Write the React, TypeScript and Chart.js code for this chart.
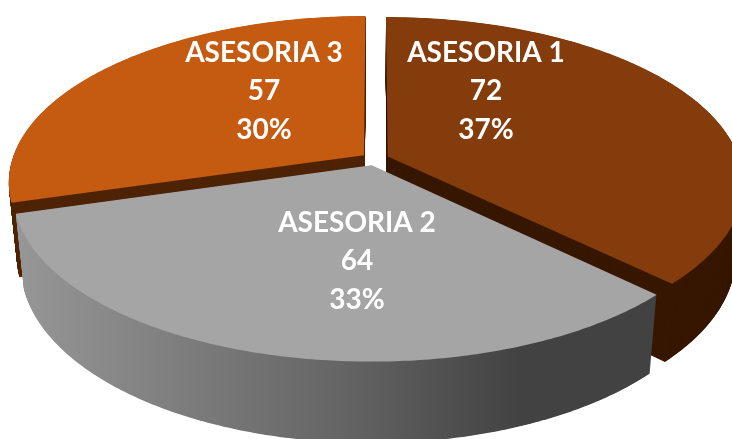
import React, { useEffect, useRef } from "react";
import { Chart, registerables } from "chart.js";

Chart.register(...registerables);

const categories = ["ASESORIA 1", "ASESORIA 2", "ASESORIA 3"];
const values = [72, 64, 57];
const topColors = ["#843c0c", "#a5a5a5", "#c55a11"];
const wallColors = ["#381802", "", "#4f2406"];

// Horizontal shading of the grey slice's wall: [x on the page, colour]
const greyWallStops: [number, string][] = [
  [20, "#969696"],
  [340, "#656565"],
  [520, "#424242"],
  [660, "#424242"],
];

// Depth-sorted drawing order of the slices (back to front)
const drawOrder = [2, 0, 1];

// Centre of each slice's label block
const labelCentres = [
  { x: 486, y: 91 },
  { x: 357, y: 261 },
  { x: 264, y: 91 },
];
const LABEL_LINE = 38.5;
const LABEL_FONT = "bold 28px Lato, 'Open Sans', sans-serif";

// Perspective camera that projects the flat pie to the page
const CX = 375;
const CY = 159;
const F = 351.6;
const G = 162.6;
const K = 0.1606;
const DEPTH_H = 74;
const DEPTH_M = 0.0217;
const WALL_STEPS = 160;

function project(X: number, Y: number, t: number) {
  const w = 1 - K * Y + DEPTH_M * t;
  return { x: CX + (F * X) / w, y: CY + (G * Y + DEPTH_H * t) / w };
}

function traceSlice(ctx: CanvasRenderingContext2D, arc: any, t: number) {
  const r = arc.outerRadius;
  const mid = (arc.startAngle + arc.endAngle) / 2;
  const e = (arc.options.offset || 0) / r;
  const ox = e * Math.cos(mid);
  const oy = e * Math.sin(mid);
  ctx.beginPath();
  const apex = project(ox, oy, t);
  ctx.moveTo(apex.x, apex.y);
  const n = 180;
  for (let i = 0; i <= n; i++) {
    const a = arc.startAngle + ((arc.endAngle - arc.startAngle) * i) / n;
    const p = project(ox + Math.cos(a), oy + Math.sin(a), t);
    ctx.lineTo(p.x, p.y);
  }
  ctx.closePath();
}

const pie3d = {
  id: "pie3d",
  beforeDatasetsDraw(chart: any) {
    const ctx: CanvasRenderingContext2D = chart.ctx;
    const arcs = chart.getDatasetMeta(0).data;
    ctx.save();
    for (const i of drawOrder) {
      const arc = arcs[i];
      let wall: string | CanvasGradient = wallColors[i];
      if (!wall) {
        const first = greyWallStops[0][0];
        const last = greyWallStops[greyWallStops.length - 1][0];
        const g = ctx.createLinearGradient(first, 0, last, 0);
        greyWallStops.forEach(([x, c]) => g.addColorStop((x - first) / (last - first), c));
        wall = g;
      }
      ctx.fillStyle = wall;
      for (let s = WALL_STEPS; s > 0; s--) {
        traceSlice(ctx, arc, s / WALL_STEPS);
        ctx.fill();
      }
      ctx.fillStyle = topColors[i];
      traceSlice(ctx, arc, 0);
      ctx.fill();
    }
    ctx.restore();
    return false;
  },
  afterDraw(chart: any) {
    const ctx: CanvasRenderingContext2D = chart.ctx;
    const total = values.reduce((a, b) => a + b, 0);
    ctx.save();
    ctx.fillStyle = "#ffffff";
    ctx.font = LABEL_FONT;
    ctx.textAlign = "center";
    ctx.textBaseline = "middle";
    categories.forEach((name, i) => {
      const c = labelCentres[i];
      ctx.fillText(name, c.x, c.y - LABEL_LINE);
      ctx.fillText(String(values[i]), c.x, c.y);
      ctx.fillText(`${Math.round((values[i] / total) * 100)}%`, c.x, c.y + LABEL_LINE);
    });
    ctx.restore();
  },
};

export default function App() {
  const ref = useRef<HTMLCanvasElement>(null);
  useEffect(() => {
    const chart = new Chart(ref.current!, {
      type: "pie",
      data: {
        labels: categories,
        datasets: [
          {
            data: values,
            backgroundColor: topColors,
            borderWidth: 0,
            offset: 8.5,
            hoverOffset: 0,
          },
        ],
      },
      options: {
        responsive: false,
        animation: false,
        plugins: { legend: { display: false }, tooltip: { enabled: false } },
      },
      plugins: [pie3d],
    } as any);
    return () => chart.destroy();
  }, []);
  return (
    <canvas
      ref={ref}
      width={732}
      height={439}
      style={{ position: "fixed", left: 0, top: 0, width: 732, height: 439, display: "block" }}
    />
  );
}
